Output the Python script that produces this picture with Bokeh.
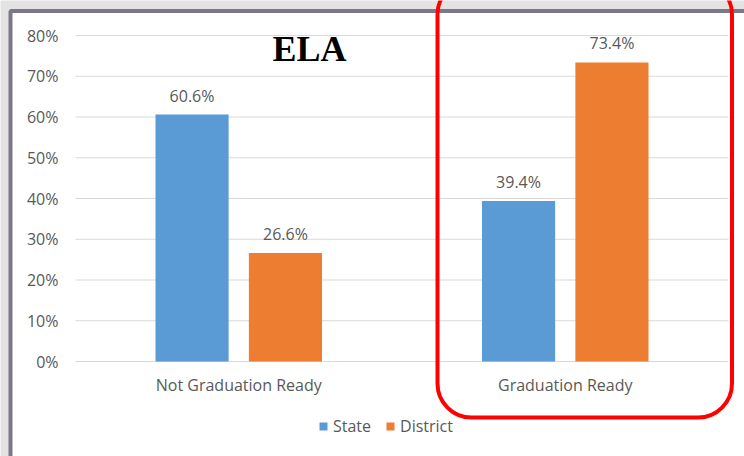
from bokeh.plotting import figure
from bokeh.models import (ColumnDataSource, Range1d, FixedTicker, NumeralTickFormatter,
                          LabelSet, Label, Legend, LegendItem, BoxAnnotation)
from bokeh.core.properties import value
from bokeh.embed import file_html
from bokeh.resources import INLINE

# ---- data ----
categories = ["Not Graduation Ready", "Graduation Ready"]
state = [0.606, 0.394]
district = [0.266, 0.734]
yticks = [0, 0.1, 0.2, 0.3, 0.4, 0.5, 0.6, 0.7, 0.8]
series_names = ["State", "District"]
colors = ["#5B9BD5", "#ED7D31"]
title_text = "ELA"

# ---- layout (pixels) ----
W, H = 744, 456
PL, PR, PT, PB = 75, 728, 35, 361      # plot region inside the canvas
YMAX = 0.8
ncat = len(categories)
ppx = (PR - PL) / ncat                  # px per category unit
ppy = (PB - PT) / YMAX                  # px per y unit

FONT = "Open Sans"
GREY = "#595959"

xcenters = [i + 0.5 for i in range(ncat)]
off = 0.143
bw = 0.224

src = ColumnDataSource(dict(
    xs=[c - off for c in xcenters],
    xd=[c + off for c in xcenters],
    state=state,
    district=district,
    state_lbl=[f"{v*100:.1f}%" for v in state],
    district_lbl=[f"{v*100:.1f}%" for v in district],
))

p = figure(width=W, height=H,
           x_range=Range1d(-PL / ppx, ncat + (W - PR) / ppx),
           y_range=Range1d(-(H - PB) / ppy, YMAX + PT / ppy),
           output_backend="svg", toolbar_location=None,
           min_border=0, min_border_left=0, min_border_right=0,
           min_border_top=0, min_border_bottom=0)
p.outline_line_color = None
p.background_fill_color = "#e3e3e3"
p.border_fill_color = "#e3e3e3"

# white chart area with dark border (screenshot frame)
chart_bg = BoxAnnotation(left=10, right=W + 40, top=10.5, bottom=H + 40,
                         left_units="canvas", right_units="canvas",
                         top_units="canvas", bottom_units="canvas",
                         fill_color="white", fill_alpha=1,
                         line_color="#7d7787", line_alpha=1, line_width=4,
                         level="underlay")
p.add_layout(chart_bg)

p.xgrid.visible = False
p.ygrid.visible = False

# horizontal gridlines across the plot region
p.segment(x0=0, x1=ncat, y0=yticks, y1=yticks, line_color="#d9d9d9", line_width=1)

r1 = p.vbar(x="xs", top="state", width=bw, source=src,
            fill_color=colors[0], line_color=None)
r2 = p.vbar(x="xd", top="district", width=bw, source=src,
            fill_color=colors[1], line_color=None)

for xc, col, lbl in [("xs", "state", "state_lbl"), ("xd", "district", "district_lbl")]:
    ls = LabelSet(x=xc, y=col, text=lbl, source=src,
                  y_offset=8, text_align="center", text_baseline="bottom",
                  text_font=value(FONT), text_font_size="16px", text_color=GREY)
    p.add_layout(ls)

# axes drawn at fixed locations inside the canvas
p.yaxis.fixed_location = 0
p.yaxis.ticker = FixedTicker(ticks=yticks)
p.yaxis.formatter = NumeralTickFormatter(format="0%")
p.xaxis.fixed_location = 0
p.xaxis.ticker = FixedTicker(ticks=xcenters)
p.xaxis.major_label_overrides = {x: c for x, c in zip(xcenters, categories)}
for ax in (p.xaxis[0], p.yaxis[0]):
    ax.axis_line_color = None
    ax.major_tick_line_color = None
    ax.minor_tick_line_color = None
    ax.major_tick_out = 0
    ax.major_tick_in = 0
    ax.major_label_text_font = FONT
    ax.major_label_text_font_size = "16px"
    ax.major_label_text_color = GREY
p.yaxis.major_label_standoff = 17
p.xaxis.major_label_standoff = 12

legend = Legend(items=[LegendItem(label=series_names[0], renderers=[r1]),
                       LegendItem(label=series_names[1], renderers=[r2])],
                orientation="horizontal", location=(318, 19),
                label_text_font=FONT, label_text_font_size="16px", label_text_color=GREY,
                glyph_width=10, glyph_height=10, spacing=14, label_standoff=5,
                border_line_color=None, background_fill_alpha=0, padding=0, margin=0)
p.add_layout(legend)

title = Label(x=(309 - PL) / ppx, y=(PB - 48) / ppy, text=title_text,
              text_align="center", text_baseline="alphabetic",
              text_font="Liberation Serif", text_font_style="bold",
              text_font_size="36px", text_color="black")
p.add_layout(title)

red_box = BoxAnnotation(left=437, right=731.5, top=-20, bottom=417,
                        left_units="canvas", right_units="canvas",
                        top_units="canvas", bottom_units="canvas",
                        fill_alpha=0, line_color="#ff0000", line_alpha=1, line_width=4,
                        border_radius=34)
p.add_layout(red_box)

open("out.html", "w").write(file_html(p, INLINE))
